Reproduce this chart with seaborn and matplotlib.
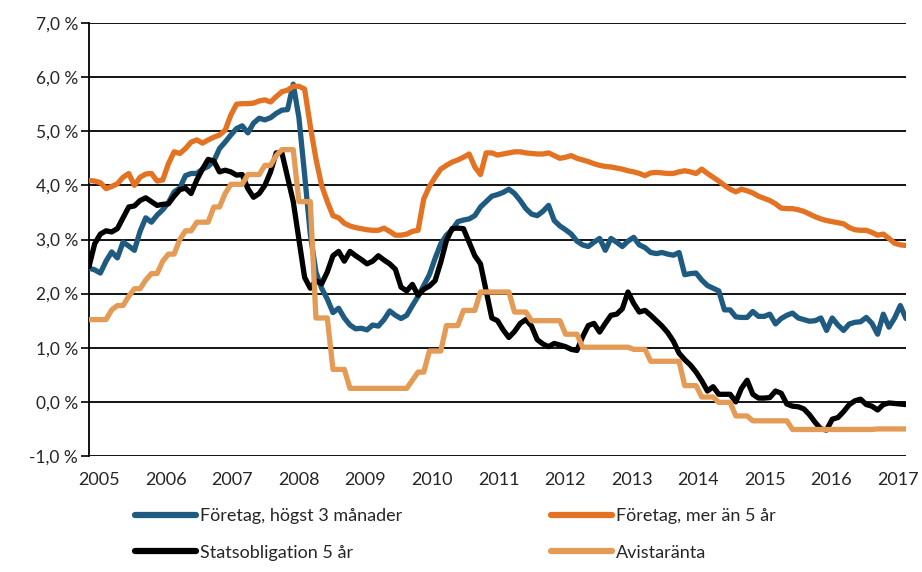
import numpy as np
import pandas as pd
import matplotlib
matplotlib.use("Agg")
import matplotlib.pyplot as plt
import seaborn as sns
from matplotlib.ticker import FuncFormatter

# Monthly data, Jan 2005 - Jan 2017 (percent)
start_year = 2005
foretag_3m = [
    2.47, 2.44, 2.38, 2.60, 2.77, 2.66, 2.95, 2.88, 2.80, 3.15, 3.40, 3.32,
    3.45, 3.55, 3.68, 3.88, 3.95, 4.18, 4.22, 4.22, 4.30, 4.35, 4.45, 4.68,
    4.80, 4.93, 5.05, 5.10, 4.97, 5.15, 5.24, 5.21, 5.25, 5.33, 5.39, 5.40,
    5.87, 5.25, 4.20, 3.10, 2.40, 2.10, 1.90, 1.65, 1.73, 1.55, 1.42, 1.35,
    1.36, 1.33, 1.42, 1.40, 1.52, 1.68, 1.60, 1.54, 1.60, 1.78, 1.95, 2.15,
    2.35, 2.65, 2.92, 3.08, 3.18, 3.33, 3.36, 3.38, 3.44, 3.60, 3.70, 3.80,
    3.83, 3.87, 3.93, 3.85, 3.72, 3.57, 3.47, 3.44, 3.52, 3.63, 3.35, 3.25,
    3.18, 3.10, 2.97, 2.90, 2.87, 2.95, 3.02, 2.80, 3.02, 2.95, 2.87, 2.97,
    3.04, 2.90, 2.85, 2.76, 2.74, 2.76, 2.73, 2.71, 2.76, 2.35, 2.37, 2.38,
    2.25, 2.15, 2.10, 2.05, 1.70, 1.70, 1.57, 1.56, 1.56, 1.67, 1.58, 1.58,
    1.62, 1.44, 1.54, 1.60, 1.64, 1.55, 1.52, 1.49, 1.50, 1.55, 1.32, 1.55,
    1.42, 1.32, 1.44, 1.47, 1.48, 1.56, 1.45, 1.25, 1.62, 1.38, 1.55, 1.78,
    1.54,
]
foretag_5y = [
    4.09, 4.08, 4.05, 3.94, 3.98, 4.03, 4.15, 4.22, 4.00, 4.15, 4.21, 4.22,
    4.08, 4.10, 4.40, 4.62, 4.59, 4.68, 4.80, 4.84, 4.78, 4.84, 4.89, 4.93,
    5.02, 5.30, 5.50, 5.51, 5.51, 5.52, 5.56, 5.58, 5.54, 5.64, 5.73, 5.76,
    5.83, 5.83, 5.78, 5.10, 4.49, 4.00, 3.70, 3.44, 3.40, 3.30, 3.25, 3.22,
    3.20, 3.18, 3.17, 3.17, 3.21, 3.15, 3.08, 3.08, 3.10, 3.15, 3.17, 3.75,
    3.98, 4.15, 4.30, 4.37, 4.43, 4.47, 4.52, 4.58, 4.34, 4.20, 4.60, 4.60,
    4.56, 4.58, 4.60, 4.62, 4.62, 4.60, 4.59, 4.58, 4.58, 4.60, 4.55, 4.50,
    4.52, 4.55, 4.50, 4.47, 4.44, 4.40, 4.37, 4.35, 4.34, 4.32, 4.30, 4.27,
    4.25, 4.22, 4.18, 4.23, 4.24, 4.23, 4.22, 4.22, 4.25, 4.27, 4.25, 4.22,
    4.30, 4.22, 4.15, 4.08, 4.00, 3.93, 3.88, 3.93, 3.90, 3.86, 3.80, 3.76,
    3.72, 3.66, 3.58, 3.57, 3.57, 3.55, 3.52, 3.47, 3.42, 3.38, 3.35, 3.33,
    3.31, 3.29, 3.22, 3.18, 3.17, 3.17, 3.13, 3.08, 3.10, 3.02, 2.93, 2.90,
    2.89,
]
statsobligation_5y = [
    2.50, 2.92, 3.10, 3.16, 3.14, 3.20, 3.40, 3.60, 3.62, 3.72, 3.77, 3.70,
    3.63, 3.65, 3.66, 3.80, 3.92, 3.95, 3.85, 4.10, 4.30, 4.48, 4.45, 4.25,
    4.28, 4.25, 4.19, 4.20, 3.94, 3.78, 3.85, 4.00, 4.25, 4.60, 4.60, 4.15,
    3.70, 3.00, 2.30, 2.10, 2.24, 2.18, 2.40, 2.70, 2.78, 2.60, 2.78, 2.70,
    2.63, 2.55, 2.60, 2.70, 2.62, 2.55, 2.45, 2.12, 2.05, 2.17, 1.97, 2.08,
    2.14, 2.24, 2.58, 2.98, 3.20, 3.21, 3.20, 2.95, 2.70, 2.55, 2.05, 1.55,
    1.50, 1.33, 1.19, 1.30, 1.45, 1.52, 1.40, 1.15, 1.07, 1.02, 1.08, 1.05,
    1.02, 0.97, 0.95, 1.20, 1.41, 1.45, 1.29, 1.45, 1.60, 1.62, 1.72, 2.03,
    1.82, 1.66, 1.69, 1.60, 1.50, 1.40, 1.28, 1.12, 0.90, 0.78, 0.68, 0.55,
    0.39, 0.20, 0.28, 0.14, 0.14, 0.14, 0.00, 0.25, 0.40, 0.14, 0.07, 0.07,
    0.08, 0.20, 0.16, -0.04, -0.08, -0.09, -0.13, -0.24, -0.38, -0.50, -0.52, -0.32,
    -0.29, -0.18, -0.05, 0.02, 0.05, -0.05, -0.08, -0.15, -0.05, -0.02, -0.03, -0.04,
    -0.05,
]
avistaranta = [
    1.52, 1.52, 1.52, 1.52, 1.70, 1.78, 1.78, 1.95, 2.09, 2.09, 2.25, 2.37,
    2.37, 2.60, 2.73, 2.73, 3.00, 3.16, 3.16, 3.32, 3.32, 3.32, 3.60, 3.60,
    3.85, 4.02, 4.02, 4.02, 4.20, 4.20, 4.20, 4.37, 4.37, 4.55, 4.66, 4.66,
    4.66, 3.70, 3.70, 3.70, 1.55, 1.55, 1.55, 0.60, 0.60, 0.60, 0.25, 0.25,
    0.25, 0.25, 0.25, 0.25, 0.25, 0.25, 0.25, 0.25, 0.25, 0.40, 0.55, 0.55,
    0.94, 0.94, 0.94, 1.41, 1.41, 1.41, 1.69, 1.69, 1.69, 2.03, 2.03, 2.03,
    2.03, 2.03, 2.03, 1.66, 1.66, 1.66, 1.50, 1.50, 1.50, 1.50, 1.50, 1.50,
    1.25, 1.25, 1.25, 1.01, 1.01, 1.01, 1.01, 1.01, 1.01, 1.01, 1.01, 1.01,
    0.97, 0.97, 0.97, 0.75, 0.75, 0.75, 0.75, 0.75, 0.75, 0.30, 0.30, 0.30,
    0.09, 0.09, 0.09, -0.01, -0.01, -0.01, -0.26, -0.26, -0.26, -0.35, -0.35, -0.35,
    -0.35, -0.35, -0.35, -0.35, -0.51, -0.51, -0.51, -0.51, -0.51, -0.51, -0.51, -0.51,
    -0.51, -0.51, -0.51, -0.51, -0.51, -0.51, -0.51, -0.50, -0.50, -0.50, -0.50, -0.50,
    -0.50,
]

labels = ["Företag, högst 3 månader", "Företag, mer än 5 år",
          "Statsobligation 5 år", "Avistaränta"]
colors = ["#1F5B80", "#E37222", "#000000", "#E39B55"]
years = list(range(2005, 2018))
yticks = list(range(-1, 8))

months = np.arange(len(foretag_3m))
df = pd.DataFrame({
    "x": start_year + months / 12,
    labels[0]: foretag_3m,
    labels[1]: foretag_5y,
    labels[2]: statsobligation_5y,
    labels[3]: avistaranta,
})
long = df.melt(id_vars="x", var_name="serie", value_name="ranta")

sns.set_style("white")
plt.rcParams["font.family"] = ["Lato", "DejaVu Sans"]

fig = plt.figure(figsize=(9.22, 5.72), dpi=100)
ax = fig.add_axes([89 / 922, 1 - 456 / 572, (906 - 89) / 922, (456 - 23) / 572])

sns.lineplot(data=long, x="x", y="ranta", hue="serie", hue_order=labels,
             palette=colors, linewidth=3.8, legend=False, ax=ax, zorder=3)

ax.set_xlim(2005, 2017)
ax.set_ylim(-1, 7)
# year labels sit slightly inside the plot edges, as in the original
ax.set_xticks(np.linspace(2005.15, 2016.88, len(years)))
ax.set_xticklabels([str(y) for y in years])
ax.set_yticks(yticks)
ax.yaxis.set_major_formatter(FuncFormatter(lambda v, p: f"{v:.1f} %".replace(".", ",")))
ax.set_xlabel("")
ax.set_ylabel("")

for y in yticks:
    ax.axhline(y, color="black", lw=1.3, zorder=1)
for s in ["top", "right", "bottom"]:
    ax.spines[s].set_visible(False)
ax.spines["left"].set_color("black")
ax.spines["left"].set_linewidth(1.3)
ax.tick_params(axis="y", which="major", left=True, length=6, width=1.2,
               direction="out", labelsize=12.5, pad=2, color="black")
ax.tick_params(axis="x", bottom=False, labelsize=13, pad=8)

handles = ax.get_lines()[:4]
left = fig.legend([handles[0], handles[2]], [labels[0], labels[2]],
                  loc="upper left", bbox_to_anchor=(135 / 922, 1 - 508 / 572),
                  frameon=False, fontsize=13, handlelength=3.4, handletextpad=0.2,
                  labelspacing=1.15, borderpad=0, borderaxespad=0)
right = fig.legend([handles[1], handles[3]], [labels[1], labels[3]],
                   loc="upper left", bbox_to_anchor=(551 / 922, 1 - 508 / 572),
                   frameon=False, fontsize=13, handlelength=3.4, handletextpad=0.2,
                   labelspacing=1.15, borderpad=0, borderaxespad=0)
for leg in (left, right):
    for line in leg.get_lines():
        line.set_linewidth(4.5)

fig.savefig("out.png", dpi=100)
